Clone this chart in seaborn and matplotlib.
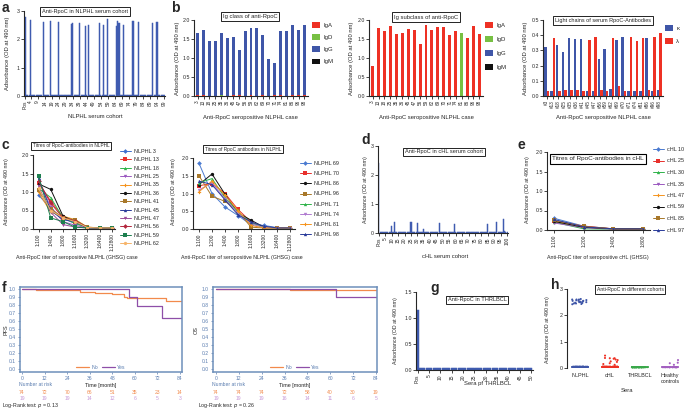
import numpy as np
import pandas as pd
import matplotlib
matplotlib.use("Agg")
import matplotlib.pyplot as plt
from matplotlib.lines import Line2D
from matplotlib.patches import Patch
import seaborn as sns

sns.set_theme(style="ticks")
plt.rcParams["font.family"] = ["Liberation Sans", "DejaVu Sans"]
plt.rcParams["axes.linewidth"] = 0.8
plt.rcParams["xtick.major.width"] = 0.6
plt.rcParams["ytick.major.width"] = 0.6
plt.rcParams["xtick.major.size"] = 2
plt.rcParams["ytick.major.size"] = 2
plt.rcParams["xtick.major.pad"] = 1
plt.rcParams["ytick.major.pad"] = 1
np.random.seed(3)

# ---------------- DATA ----------------
# panel a : NLPHL serum cohort
a_pos_control = 2.80
a_pos_samples = [4, 13, 18, 24, 33, 34, 39, 43, 45, 53, 56, 59, 65, 66, 67, 70, 77, 81, 91, 94]
a_pos_od = [2.68, 2.60, 2.66, 2.60, 2.55, 2.56, 2.58, 2.48, 2.52, 2.56,
            2.49, 2.71, 2.48, 2.64, 2.56, 2.52, 2.65, 2.62, 2.58, 2.62]
a_n_samples = 99
a_background_od = 0.03
a_tick_labels = ["Pos", "4", "9", "14", "19", "24", "29", "34", "39", "44", "49",
                 "54", "59", "64", "69", "74", "79", "84", "89", "94", "99"]

# panel b : Ig class / subclass / light chains
b_cases = ["3", "13", "18", "25", "35", "36", "45", "47", "56", "59",
           "62", "69", "70", "71", "74", "81", "86", "96", "98"]
b_isotypes = ["IgA", "IgD", "IgG", "IgM"]
b1_IgA = [0.02, 0.02, 0.01, 0.01, 0.02, 0.01, 0.02, 0.02, 0.01, 0.02,
          0.01, 0.02, 0.01, 0.02, 0.02, 0.01, 0.02, 0.03, 0.03]
b1_IgD = [0.01, 0.01, 0.01, 0.01, 0.02, 0.01, 0.01, 0.01, 0.01, 0.01,
          0.01, 0.01, 0.01, 0.01, 0.01, 0.01, 0.01, 0.01, 0.01]
b1_IgG = [1.65, 1.75, 1.45, 1.45, 1.65, 1.53, 1.55, 1.20, 1.72, 1.80,
          1.80, 1.60, 0.98, 0.88, 1.72, 1.72, 1.87, 1.75, 1.87]
b1_IgM = [0.01, 0.01, 0.01, 0.01, 0.01, 0.01, 0.01, 0.01, 0.01, 0.01,
          0.01, 0.01, 0.01, 0.01, 0.01, 0.01, 0.01, 0.01, 0.01]
b2_IgA = [0.80, 1.80, 1.72, 1.85, 1.62, 1.65, 1.76, 1.73, 1.37, 1.87,
          1.73, 1.82, 1.82, 1.60, 1.70, 0.02, 1.52, 1.85, 1.63]
b2_IgD = [0.01, 0.01, 0.01, 0.01, 0.01, 0.01, 0.01, 0.01, 0.01, 0.01,
          0.01, 0.01, 0.01, 0.01, 0.01, 1.65, 0.01, 0.01, 0.01]
b2_IgG = [0.01, 0.01, 0.01, 0.01, 0.01, 0.01, 0.01, 0.01, 0.01, 0.01,
          0.01, 0.01, 0.01, 0.01, 0.01, 0.01, 0.01, 0.01, 0.01]
b2_IgM = [0.01, 0.01, 0.01, 0.01, 0.01, 0.01, 0.01, 0.01, 0.01, 0.01,
          0.01, 0.01, 0.01, 0.01, 0.01, 0.01, 0.01, 0.01, 0.01]
b3_cases = ["#3", "#13", "#18", "#25", "#35", "#36", "#41", "#45", "#47", "#56",
            "#59", "#62", "#69", "#70", "#71", "#74", "#81", "#86", "#96", "#98"]
b3_kappa = [0.325, 0.035, 0.335, 0.29, 0.38, 0.375, 0.375, 0.03, 0.035, 0.245,
            0.31, 0.045, 0.37, 0.39, 0.035, 0.03, 0.03, 0.38, 0.035, 0.04]
b3_lambda = [0.03, 0.38, 0.035, 0.04, 0.04, 0.04, 0.035, 0.37, 0.385, 0.04,
             0.035, 0.38, 0.065, 0.035, 0.385, 0.365, 0.38, 0.04, 0.385, 0.415]

# panel c : titres in NLPHL
c1_dilutions = ["1:100", "1:400", "1:800", "1:1600", "1:3200", "1:6400", "1:12800"]
c1_cases = ["NLPHL 3", "NLPHL 13", "NLPHL 18", "NLPHL 25", "NLPHL 35", "NLPHL 36",
            "NLPHL 41", "NLPHL 45", "NLPHL 47", "NLPHL 56", "NLPHL 59", "NLPHL 62"]
c1_od = [
    [0.92, 0.55, 0.28, 0.15, 0.04, 0.03, 0.03],
    [1.25, 0.75, 0.33, 0.20, 0.04, 0.03, 0.03],
    [1.10, 0.85, 0.30, 0.15, 0.04, 0.03, 0.03],
    [1.30, 0.60, 0.20, 0.10, 0.03, 0.03, 0.03],
    [1.00, 0.45, 0.35, 0.25, 0.05, 0.03, 0.03],
    [1.22, 1.07, 0.35, 0.20, 0.04, 0.03, 0.03],
    [1.05, 0.55, 0.30, 0.25, 0.05, 0.03, 0.03],
    [1.38, 0.50, 0.25, 0.20, 0.04, 0.03, 0.03],
    [1.15, 0.45, 0.12, 0.05, 0.03, 0.03, 0.03],
    [1.30, 0.70, 0.30, 0.22, 0.04, 0.03, 0.03],
    [1.42, 0.30, 0.20, 0.05, 0.03, 0.03, 0.03],
    [1.10, 0.50, 0.30, 0.20, 0.04, 0.03, 0.03],
]
c2_dilutions = ["1:100", "1:200", "1:400", "1:800", "1:1600", "1:3200", "1:6400", "1:12800"]
c2_cases = ["NLPHL 69", "NLPHL 70", "NLPHL 86", "NLPHL 96", "NLPHL 71",
            "NLPHL 74", "NLPHL 81", "NLPHL 98"]
c2_od = [
    [1.85, 1.00, 0.62, 0.38, 0.12, 0.10, 0.04, 0.03],
    [1.22, 1.28, 1.00, 0.55, 0.20, 0.03, 0.03, 0.03],
    [1.25, 1.55, 0.98, 0.45, 0.25, 0.05, 0.03, 0.03],
    [1.50, 0.92, 0.78, 0.50, 0.05, 0.03, 0.03, 0.03],
    [1.30, 1.42, 0.88, 0.48, 0.18, 0.04, 0.03, 0.03],
    [1.10, 1.30, 0.85, 0.45, 0.15, 0.04, 0.03, 0.03],
    [1.05, 1.35, 0.95, 0.52, 0.10, 0.03, 0.03, 0.03],
    [1.35, 1.25, 0.82, 0.40, 0.20, 0.08, 0.03, 0.03],
]

# panel d : cHL serum cohort
d_pos_control = 2.40
d_pos_samples = [10, 12, 25, 30, 35, 47, 59, 85, 92, 97, 98]
d_pos_od = [0.23, 0.37, 0.37, 0.34, 0.15, 0.36, 0.32, 0.31, 0.38, 0.47, 0.08]
d_n_samples = 100
d_background_od = 0.03
d_tick_labels = ["Pos", "5", "10", "15", "20", "25", "30", "35", "40", "45", "50",
                 "55", "60", "65", "70", "75", "80", "85", "90", "95", "100"]

# panel e : titres in cHL
e_dilutions = ["1:100", "1:200", "1:400", "1:800"]
e_cases = ["cHL 10", "cHL 25", "cHL 30", "cHL 35", "cHL 47", "cHL 59", "cHL 85", "cHL 97"]
e_od = [
    [0.30, 0.10, 0.03, 0.03],
    [0.23, 0.10, 0.03, 0.03],
    [0.20, 0.03, 0.02, 0.02],
    [0.18, 0.06, 0.02, 0.02],
    [0.22, 0.08, 0.03, 0.03],
    [0.22, 0.07, 0.03, 0.03],
    [0.25, 0.09, 0.03, 0.03],
    [0.27, 0.08, 0.03, 0.03],
]

# panel f : Kaplan-Meier
pfs_no_t = [0, 7.5, 31, 39, 48, 54, 56, 76.5, 84.5]
pfs_no_s = [1.0, 0.985, 0.965, 0.95, 0.935, 0.895, 0.885, 0.845, 0.845]
pfs_yes_t = [0, 57, 61, 74.5, 84.5]
pfs_yes_s = [1.0, 0.90, 0.785, 0.635, 0.635]
os_no_t = [0, 38.8, 84.5]
os_no_s = [1.0, 0.99, 0.99]
os_yes_t = [0, 63, 84.5]
os_yes_s = [1.0, 0.90, 0.90]
risk_times = [0, 12, 24, 36, 48, 60, 72, 84]
pfs_risk_no = [74, 72, 70, 66, 51, 35, 23, 14]
pfs_risk_yes = [19, 19, 19, 14, 12, 6, 5, 3]
os_risk_no = [74, 74, 74, 72, 58, 40, 30, 19]
os_risk_yes = [19, 19, 19, 16, 14, 11, 6, 5]
pfs_p = "0.13"
os_p = "0.26"

# panel g : THRLBCL
g_pos_control = 1.15
g_n_samples = 50
g_background_od = 0.03
g_tick_labels = ["Pos", "5", "10", "15", "20", "25", "30", "35", "40", "45", "50"]

# panel h : cohorts
h_groups = ["NLPHL", "cHL", "THRLBCL", "Healthy\ncontrols"]
h_nlphl_high = [2.62, 2.55, 2.60, 2.52, 2.50, 2.58, 2.45, 2.48, 2.55, 2.60,
                2.42, 2.50, 2.47, 2.57, 2.53, 2.43, 2.60, 2.50, 2.45, 2.55]
h_nlphl_low, h_nlphl_low_n = 0.04, 79
h_chl_high = [0.47, 0.38, 0.35, 0.37, 0.30, 0.32, 0.25, 0.15, 0.37, 0.23, 0.12, 0.18]
h_chl_low, h_chl_low_n = 0.04, 88
h_thrlbcl_low, h_thrlbcl_low_n = 0.03, 50
h_hc_high = [0.30, 0.20, 0.18, 0.12]
h_hc_low, h_hc_low_n = 0.03, 20

# ---------------- STYLE ----------------
W, H = 685, 412
BAR_BLUE = "#3f5bb0"
ISO_COL = {"IgA": "#ee3124", "IgD": "#77c043", "IgG": "#3f56a8", "IgM": "#111111"}
LC_COL = {"\u03ba": "#3f56a8", "\u03bb": "#ee3124"}
FS_TICK = 3.8
FS_LAB = 4.2

fig = plt.figure(figsize=(6.85, 4.12), dpi=100)
fig.patch.set_facecolor("white")


def add_ax(x0, y0, x1, y1):
    return fig.add_axes([x0 / W, 1 - y1 / H, (x1 - x0) / W, (y1 - y0) / H])


def ftext(x, y, s, **kw):
    return fig.text(x / W, 1 - y / H, s, **kw)


def boxed(x, y, s, fs=4.1, lw=0.6):
    ftext(x, y, s, ha="center", va="center", fontsize=fs,
          bbox=dict(boxstyle="square,pad=0.35", fc="white", ec="black", lw=lw))


def letter(x, y, s):
    ftext(x, y, s, ha="left", va="top", fontsize=10, fontweight="bold")


def ylab(x, y, s, fs=FS_LAB):
    ftext(x, y, s, ha="center", va="center", rotation=90, fontsize=fs)


def xlab(x, y, s, fs=FS_LAB):
    ftext(x, y, s, ha="center", va="center", fontsize=fs)


def base_style(ax):
    sns.despine(ax=ax)
    ax.tick_params(axis="both", labelsize=FS_TICK, length=2, width=0.6, pad=1)
    ax.set_xlabel("")
    ax.set_ylabel("")


def cohort_bars(ax, pos_control, samples, ods, n, bg, ticks, ymax, yticks):
    labels = ["Pos"] + [str(i) for i in range(1, n + 1)]
    values = [pos_control] + [bg] * n
    for s, v in zip(samples, ods):
        values[s] = v
    df = pd.DataFrame({"sample": labels, "od": values})
    sns.barplot(data=df, x="sample", y="od", order=labels, color=BAR_BLUE,
                saturation=1, width=0.9, linewidth=0.35, edgecolor=BAR_BLUE, ax=ax)
    base_style(ax)
    ax.set_ylim(0, ymax)
    ax.set_yticks(yticks)
    ax.set_xlim(-0.7, n + 0.7)
    ax.set_xticks([labels.index(t) for t in ticks])
    ax.set_xticklabels(ticks, rotation=90, fontsize=3.5)


# ---------------- a ----------------
ax = add_ax(24, 11, 165, 96)
cohort_bars(ax, a_pos_control, a_pos_samples, a_pos_od, a_n_samples, a_background_od,
            a_tick_labels, 3, [0, 1, 2, 3])
ax.set_yticklabels(["0", "1", "2", "3"])
boxed(85, 11.5, "Anti-RpoC in NLPHL serum cohort", fs=4.1)
ylab(8, 53, "Adsorbance (OD at 490 nm)")
xlab(95, 117, "NLPHL serum cohort")
letter(2, 1, "a")


# ---------------- b ----------------
def iso_bars(ax, cases, series, order, palette, ymax, yticks, fmt, dodge, width):
    rows = []
    for iso, vals in zip(order, series):
        for c, v in zip(cases, vals):
            rows.append({"case": c, "iso": iso, "od": v})
    df = pd.DataFrame(rows)
    sns.barplot(data=df, x="case", y="od", hue="iso", hue_order=order, order=cases,
                palette=palette, saturation=1, width=width, dodge=dodge, linewidth=0,
                ax=ax, legend=False)
    base_style(ax)
    ax.set_ylim(0, ymax)
    ax.set_yticks(yticks)
    ax.set_yticklabels([fmt.format(t) for t in yticks])
    ax.set_xlim(-0.6, len(cases) - 0.4)
    ax.tick_params(axis="x", labelsize=3.3, rotation=90)


def patch_legend(ax, labels, colors, x, y, spacing, fs=4.3):
    handles = [Patch(facecolor=c, edgecolor="none", label=l) for l, c in zip(labels, colors)]
    ax.legend(handles=handles, loc="upper left", bbox_to_anchor=(x / W, 1 - y / H),
              bbox_transform=fig.transFigure, frameon=False, fontsize=fs,
              handlelength=1.3, handleheight=1.1, handletextpad=0.6,
              labelspacing=spacing, borderaxespad=0, borderpad=0)


ax = add_ax(194, 20, 308, 96)
iso_bars(ax, b_cases, [b1_IgG, b1_IgA, b1_IgD, b1_IgM], ["IgG", "IgA", "IgD", "IgM"],
         ISO_COL, 2.0, [0, 0.5, 1.0, 1.5, 2.0], "{:.1f}", False, 0.5)
patch_legend(ax, b_isotypes, [ISO_COL[i] for i in b_isotypes], 312, 22, 1.05)
boxed(250, 16.5, "Ig class of anti-RpoC", fs=4.2)
ylab(178, 58, "Adsorbance (OD at 490 nm)")
xlab(250, 118, "Anti-RpoC seropositive NLPHL case")
letter(171, 1, "b")

ax = add_ax(369, 20, 483, 96)
iso_bars(ax, b_cases, [b2_IgA, b2_IgD, b2_IgG, b2_IgM], b_isotypes, ISO_COL, 2.0,
         [0, 0.5, 1.0, 1.5, 2.0], "{:.1f}", False, 0.5)
patch_legend(ax, b_isotypes, [ISO_COL[i] for i in b_isotypes], 485, 22, 1.35)
boxed(426, 17, "Ig subclass of anti-RpoC", fs=4.2)
ylab(352, 58, "Adsorbance (OD at 490 nm)")
xlab(426, 118, "Anti-RpoC seropositive NLPHL case")

ax = add_ax(543, 20, 663, 96)
iso_bars(ax, b3_cases, [b3_kappa, b3_lambda], ["\u03ba", "\u03bb"], LC_COL, 0.5,
         [0, 0.1, 0.2, 0.3, 0.4, 0.5], "{:.1f}", True, 0.85)
patch_legend(ax, ["\u03ba", "\u03bb"], [LC_COL["\u03ba"], LC_COL["\u03bb"]], 665, 25, 1.2)
boxed(603, 20.5, "Light chains of serum RpoC-Antibodies", fs=4.0)
ylab(526, 58, "Adsorbance (OD at 490 nm)")
xlab(603, 118, "Anti-RpoC seropositive NLPHL case")


# ---------------- c / e ----------------
def titre_lines(ax, dilutions, cases, ods, colors, markers, xl, ymax=2.0):
    rows = []
    for c, vals in zip(cases, ods):
        for i, v in enumerate(vals):
            rows.append({"dil": i, "od": v, "case": c})
    df = pd.DataFrame(rows)
    pal = dict(zip(cases, colors))
    mk = dict(zip(cases, markers))
    sns.lineplot(data=df, x="dil", y="od", hue="case", style="case", hue_order=cases,
                 style_order=cases, palette=pal, markers=mk, dashes=False, lw=0.7,
                 markersize=2.4, markeredgewidth=0, ax=ax, legend=False)
    base_style(ax)
    ax.set_ylim(0, ymax)
    ax.set_yticks([0, 0.5, 1.0, 1.5, 2.0])
    ax.set_yticklabels(["0.0", "0.5", "1.0", "1.5", "2.0"])
    ax.set_xticks(range(len(dilutions)))
    ax.set_xticklabels(dilutions, rotation=90, fontsize=3.5)
    ax.set_xlim(*xl)
    return pal, mk


def line_legend(ax, cases, pal, mk, x, y, spacing, fs=3.9):
    handles = [Line2D([0], [0], color=pal[c], marker=mk[c], lw=0.7, ms=2.4,
                      markeredgewidth=0, label=c) for c in cases]
    ax.legend(handles=handles, loc="upper left", bbox_to_anchor=(x / W, 1 - y / H),
              bbox_transform=fig.transFigure, frameon=False, fontsize=fs,
              handlelength=2.0, handletextpad=0.6, labelspacing=spacing,
              borderaxespad=0, borderpad=0)


c1_colors = ["#3e6fce", "#e8302c", "#2fb34a", "#9b59c0", "#f5941f", "#111111",
             "#a8782a", "#2a3b9a", "#9a4d9a", "#b3263d", "#1d7f4f", "#f6b46a"]
c1_markers = ["D", "s", "^", "v", "P", "o", "s", "^", "v", "D", "s", "o"]
ax = add_ax(33, 155, 115, 229)
pal, mk = titre_lines(ax, c1_dilutions, c1_cases, c1_od, c1_colors, c1_markers, (-0.45, 6.25))
line_legend(ax, c1_cases, pal, mk, 120, 149, 0.62)
boxed(71, 146, "Titres of RpoC-antibodies in NLPHL", fs=3.4)
ylab(7, 192, "Adsorbance (OD at 490 nm)", fs=3.8)
xlab(77, 257, "Anti-RpoC titer of seropositive NLPHL (GHSG) case", fs=3.8)
letter(2, 138, "c")

c2_colors = ["#4a7ad0", "#e8302c", "#111111", "#a8782a", "#2fb34a", "#b07ad0", "#f5941f", "#2a3b9a"]
c2_markers = ["D", "s", "o", "s", "^", "v", "P", "^"]
ax = add_ax(193, 158, 295, 229)
pal, mk = titre_lines(ax, c2_dilutions, c2_cases, c2_od, c2_colors, c2_markers, (-0.46, 7.38))
line_legend(ax, c2_cases, pal, mk, 300, 161, 0.95)
boxed(243, 149, "Titres of RpoC antibodies in NLPHL", fs=3.4)
ylab(174, 192, "Adsorbance (OD at 490 nm)", fs=3.8)
xlab(242, 257, "Anti-RpoC titer of seropositive NLPHL (GHSG) case", fs=3.8)

e_colors = ["#4a7ad0", "#e8302c", "#2fb34a", "#9b59c0", "#f5941f", "#111111", "#a8782a", "#2a3b9a"]
e_markers = ["D", "s", "^", "v", "P", "o", "s", "^"]
ax = add_ax(547, 152, 650, 230)
pal, mk = titre_lines(ax, e_dilutions, e_cases, e_od, e_colors, e_markers, (-0.24, 3.24))
line_legend(ax, e_cases, pal, mk, 653, 147, 1.2)
boxed(598, 159, "Titres of RpoC-antibodies in cHL", fs=4.6, lw=0.8)
ylab(527, 190, "Adsorbance (OD at 490 nm)", fs=3.8)
xlab(598, 258, "Anti-RpoC titer of seropositive cHL (GHSG)", fs=3.8)
letter(517, 138, "e")

# ---------------- d ----------------
ax = add_ax(378, 146, 508, 233)
cohort_bars(ax, d_pos_control, d_pos_samples, d_pos_od, d_n_samples, d_background_od,
            d_tick_labels, 3, [0, 1, 2, 3])
ax.set_yticklabels(["0", "1", "2", "3"])
boxed(444, 152, "Anti-RpoC in cHL serum cohort", fs=4.1)
ylab(366, 190, "Adsorbance (OD at 490 nm)", fs=3.8)
xlab(445, 257, "cHL serum cohort")
letter(361, 133, "d")

# ---------------- f ----------------
KM_FRAME = "#6d8fba"
KM_TICK = "#5a7db0"
KM_NO = "#f28a4c"
KM_YES = "#8e4fa8"


def km_panel(ax, no_t, no_s, yes_t, yes_s, rno, ryes, ylabel, yl_x, p, p_x, xl):
    df = pd.DataFrame({
        "time": list(no_t) + list(yes_t),
        "surv": list(no_s) + list(yes_s),
        "group": ["No"] * len(no_t) + ["Yes"] * len(yes_t),
    })
    sns.lineplot(data=df, x="time", y="surv", hue="group", hue_order=["No", "Yes"],
                 palette={"No": KM_NO, "Yes": KM_YES}, estimator=None,
                 drawstyle="steps-post", lw=0.9, ax=ax, legend=False)
    ax.set_xlim(*xl)
    ax.set_ylim(-0.0375, 1.025)
    ax.set_xticks(risk_times)
    ax.set_yticks(np.round(np.arange(0, 1.01, 0.1), 1))
    ax.set_yticklabels(["{:.1f}".format(v) for v in np.arange(0, 1.01, 0.1)])
    for s in ax.spines.values():
        s.set_visible(True)
        s.set_color(KM_FRAME)
        s.set_linewidth(1.1)
    ax.tick_params(axis="both", colors=KM_TICK, labelsize=3.6, length=1.5, width=0.5, pad=1.5)
    ax.set_xlabel("")
    ax.set_ylabel("")
    handles = [Line2D([0], [0], color=KM_NO, lw=0.9, label="No"),
               Line2D([0], [0], color=KM_YES, lw=0.9, label="Yes")]
    ax.legend(handles=handles, loc="lower center", bbox_to_anchor=(0.5, -0.01), ncol=2,
              frameon=False, fontsize=3.8, handlelength=2.4, columnspacing=0.8,
              handletextpad=0.4, borderpad=0.1)
    for lab in ax.get_legend().get_texts():
        lab.set_color(KM_TICK)
    x0, x1 = ax.get_position().x0, ax.get_position().x1
    ax_px_l, ax_px_r = x0 * W, x1 * W

    def tx(t):
        return ax_px_l + (t - xl[0]) / (xl[1] - xl[0]) * (ax_px_r - ax_px_l)
    ftext(ax_px_l - 1, 385, "Number at risk", ha="left", va="center", fontsize=3.6, color=KM_TICK)
    ftext((ax_px_l + ax_px_r) / 2, 385, "Time [month]", ha="center", va="center",
          fontsize=3.9, color="#222222")
    for t, a, b in zip(risk_times, rno, ryes):
        ftext(tx(t), 392, str(a), ha="center", va="center", fontsize=3.6, color=KM_NO)
        ftext(tx(t), 398.5, str(b), ha="center", va="center", fontsize=3.6, color="#c79ad8")
    ylab(yl_x, 330, ylabel, fs=4.0)
    ftext(p_x, 406, "Log-Rank test: $p$ = " + p, ha="left", va="center", fontsize=3.8)


ax = add_ax(20, 287, 182, 372)
km_panel(ax, pfs_no_t, pfs_no_s, pfs_yes_t, pfs_yes_s, pfs_risk_no, pfs_risk_yes,
         "PFS", 6, pfs_p, 2, (-1.1, 85.1))
letter(2, 281, "f")
ax = add_ax(213, 287, 377, 372)
km_panel(ax, os_no_t, os_no_s, os_yes_t, os_yes_s, os_risk_no, os_risk_yes,
         "OS", 196, os_p, 198, (-1.6, 84.6))

# ---------------- g ----------------
ax = add_ax(416, 292, 533, 370)
cohort_bars(ax, g_pos_control, [], [], g_n_samples, g_background_od,
            g_tick_labels, 1.5, [0, 0.5, 1.0, 1.5])
ax.set_yticklabels(["0.0", "0.5", "1.0", "1.5"])
boxed(477, 300, "Anti-RpoC in THRLBCL", fs=4.1)
ylab(396, 331, "Adsorbance (OD at 490 nm)", fs=3.8)
xlab(488, 384, "Sera pf THRLBCL")
letter(430, 281, "g")

# ---------------- h ----------------
h_palette = dict(zip(h_groups, ["#3f56a8", "#ee3124", "#3aa84a", "#a35fc0"]))
h_values = {
    h_groups[0]: h_nlphl_high + [h_nlphl_low] * h_nlphl_low_n,
    h_groups[1]: h_chl_high + [h_chl_low] * h_chl_low_n,
    h_groups[2]: [h_thrlbcl_low] * h_thrlbcl_low_n,
    h_groups[3]: h_hc_high + [h_hc_low] * h_hc_low_n,
}
rows = [{"group": g, "od": v} for g in h_groups for v in h_values[g]]
df_h = pd.DataFrame(rows)
ax = add_ax(567, 289, 680, 370.6)
sns.stripplot(data=df_h, x="group", y="od", hue="group", order=h_groups, hue_order=h_groups,
              palette=h_palette, jitter=0.27, size=1.5, linewidth=0, ax=ax, legend=False)
for i, g in enumerate(h_groups):
    ax.hlines(np.median(h_values[g]), i - 0.3, i + 0.3, color=h_palette[g], lw=1.2)
base_style(ax)
ax.spines["bottom"].set_visible(False)
ax.set_ylim(-0.1, 3.0)
ax.spines["left"].set_bounds(0, 3)
ax.set_yticks([0, 1, 2, 3])
ax.set_xlim(-0.43, 3.33)
ax.tick_params(axis="x", length=0, labelsize=3.9, pad=2)
boxed(630, 289.5, "Anti-RpoC in different cohorts", fs=3.6)
ylab(548, 330, "Adsorbance (OD at 490 nm)", fs=3.8)
xlab(627, 391, "Sera")
letter(551, 278, "h")

fig.savefig("out.png", dpi=100, facecolor="white")
